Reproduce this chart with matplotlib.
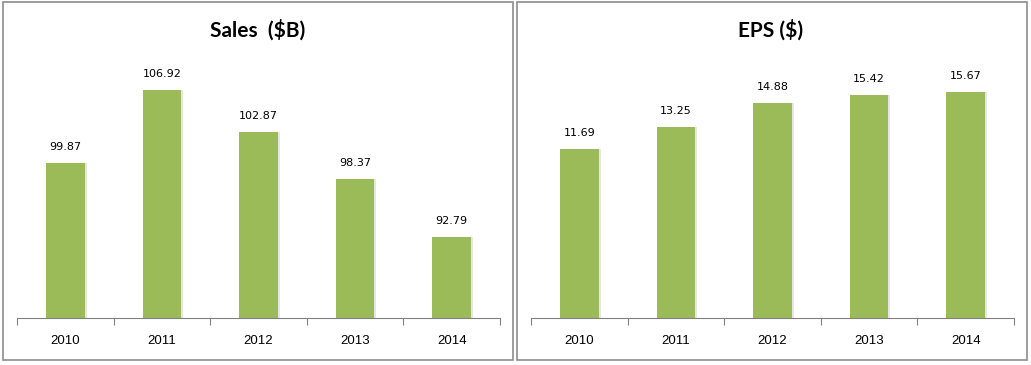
import matplotlib
matplotlib.use('Agg')
import matplotlib.pyplot as plt
from matplotlib.patches import Rectangle

years = ['2010', '2011', '2012', '2013', '2014']
sales = [99.87, 106.92, 102.87, 98.37, 92.79]
eps = [11.69, 13.25, 14.88, 15.42, 15.67]

bar_color = '#9BBB59'
W, H = 1031, 365

fig = plt.figure(figsize=(W / 100, H / 100), dpi=100)

# panel frames (pixel boxes -> figure coords)
for x0, x1 in [(3, 513), (517, 1027)]:
    fig.patches.append(Rectangle((x0 / W, 5 / H), (x1 - x0) / W, 358 / H,
                                 transform=fig.transFigure, fill=False,
                                 edgecolor='#8c8c8c', lw=1.2))


def panel(left_px, values, ylim, title, title_x):
    ax = fig.add_axes([left_px / W, 47 / H, 483 / W, 260 / H])
    x = list(range(len(values)))
    # faint shadow then the bar itself
    ax.bar([i + 0.02 for i in x], [v - ylim[0] for v in values], bottom=ylim[0],
           width=0.4, color='#e6e6e6', zorder=1)
    ax.bar(x, [v - ylim[0] for v in values], bottom=ylim[0], width=0.4,
           color=bar_color, zorder=2)
    for i, v in zip(x, values):
        ax.annotate(f'{v:.2f}', (i, v), xytext=(0, 8), textcoords='offset points',
                    ha='center', va='bottom', fontsize=8, family='DejaVu Sans')
    ax.set_xlim(-0.5, len(values) - 0.5)
    ax.set_ylim(*ylim)
    for s in ['top', 'right', 'left']:
        ax.spines[s].set_visible(False)
    ax.spines['bottom'].set_color('#808080')
    ax.set_yticks([])
    ax.set_xticks([i - 0.5 for i in range(len(values) + 1)], minor=False)
    ax.set_xticklabels([])
    ax.tick_params(axis='x', which='major', length=5, color='#808080', direction='out')
    ax.set_xticks(x, minor=True)
    ax.set_xticklabels(years, minor=True, fontsize=9.5, family='Liberation Sans')
    ax.tick_params(axis='x', which='minor', length=0, pad=12)
    fig.text(title_x / W, 1 - 30 / H, title, ha='center', va='center',
             fontsize=15, fontweight='bold', family='Lato')


panel(17, sales, (85, 110), 'Sales  ($B)', 258)
panel(531, eps, (0, 18), 'EPS ($)', 771)

fig.savefig('out.png', dpi=100)
